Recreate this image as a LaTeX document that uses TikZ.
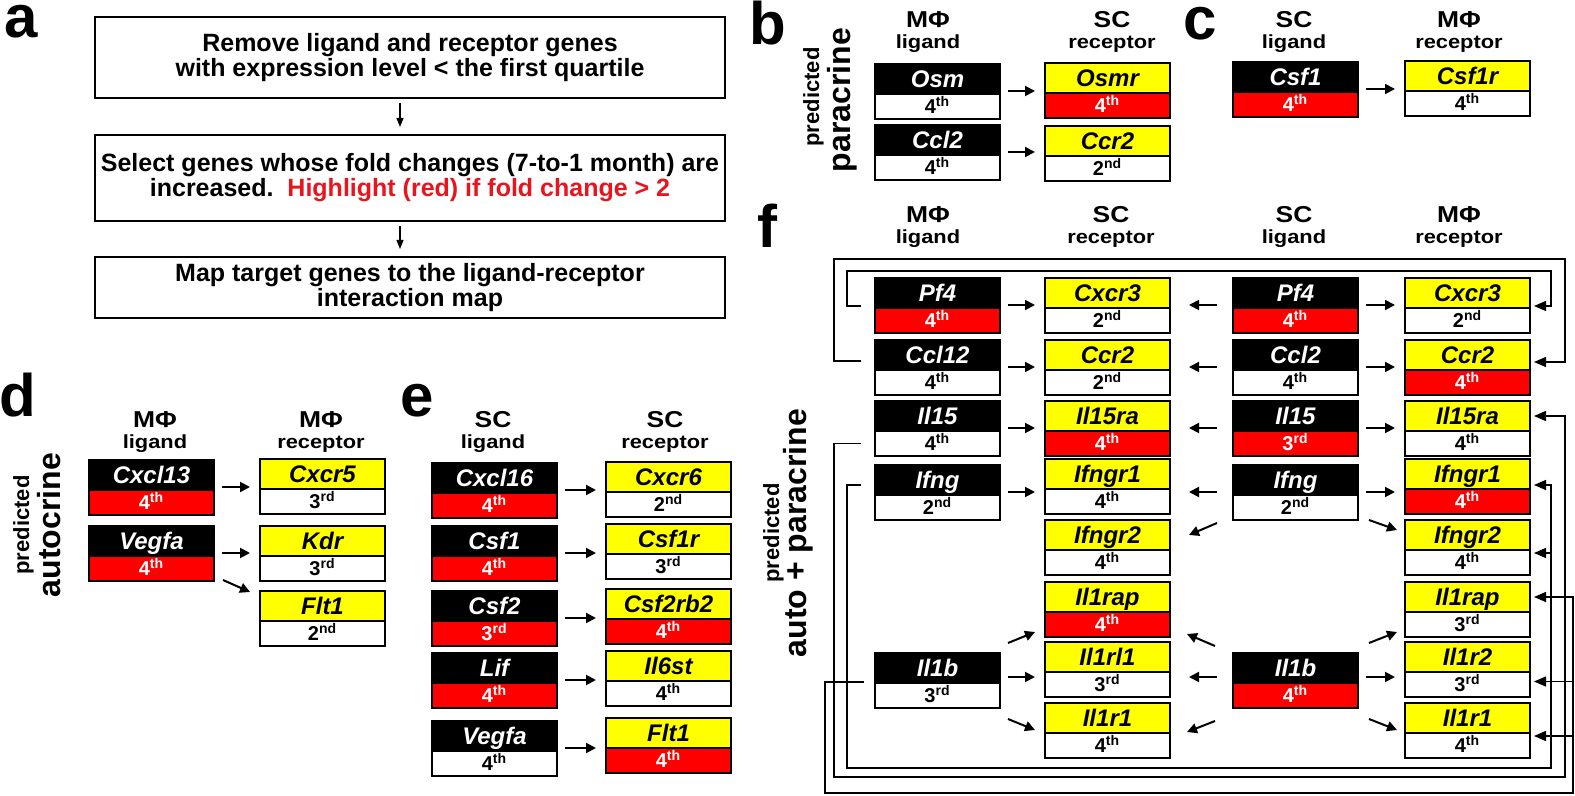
\documentclass[tikz,border=0pt]{standalone}
\usepackage{fontspec}
\setmainfont{Liberation Sans}
\newfontfamily\hdrfont[FakeStretch=1.15]{Liberation Sans}
\usetikzlibrary{arrows.meta,positioning}
\definecolor{hired}{RGB}{255,0,0}
\definecolor{genyel}{RGB}{255,255,0}
\definecolor{txtred}{RGB}{232,20,30}

\begin{document}
\begin{tikzpicture}[x=0.5pt, y=-0.5pt,
    every node/.style={inner sep=0pt, outer sep=0pt},
    stepbox/.style={draw, line width=0.75pt, minimum width=315pt, align=center,
      font=\fontsize{12.5}{12.5}\selectfont\bfseries},
    flow/.style={-{Triangle[length=4.5pt,width=3.5pt]}, line width=0.6pt, shorten <=2.5pt, shorten >=4pt},
    panel/.style={anchor=base west, font=\fontsize{30}{30}\selectfont\bfseries},
    gene/.style={draw, line width=0.6pt, minimum width=62.5pt, minimum height=15pt,
      text height=8.6pt, text depth=0pt, font=\fontsize{12}{12}\selectfont\bfseries\itshape},
    rank/.style={draw, line width=0.6pt, minimum width=62.5pt, minimum height=12.5pt,
      text height=7.2pt, text depth=0pt, font=\fontsize{10}{10}\selectfont\bfseries},
    lig/.style={fill=black, text=white},
    rec/.style={fill=genyel, text=black},
    hi/.style={fill=hired, text=white},
    lo/.style={fill=white, text=black},
    celltype/.style={anchor=base, font=\hdrfont\fontsize{11.5}{11.5}\selectfont\bfseries},
    role/.style={anchor=base, font=\hdrfont\fontsize{9.5}{9.5}\selectfont\bfseries},
    mode/.style={rotate=90, anchor=base},
    link/.style={-{Triangle[length=5pt,width=5pt]}, line width=1pt, shorten <=4pt, shorten >=5pt},
    linkl/.style={link, shorten <=8pt, shorten >=9.5pt},
    diag/.style={link, shorten <=0pt, shorten >=0pt},
    wire/.style={-{Triangle[length=6pt,width=5pt]}, line width=0.7pt}]
  \useasboundingbox (0,0) rectangle (1575,796);
  \fill[white] (0,0) rectangle (1575,796);

  % panel letters
  \node[panel] (la) at (4,38) {a};
  \node[panel] (lb) at (749,45) {b};
  \node[panel] (lc) at (1183,40) {c};
  \node[panel] (ld) at (-1,417) {d};
  \node[panel] (le) at (400,417) {e};
  \node[panel] (lf) at (757,248) {f};

  % a: workflow
  \node[stepbox, minimum height=40.5pt] (s1) at (410,57.5)
    {Remove ligand and receptor genes\\with expression level < the first quartile};
  \node[stepbox, minimum height=43pt] (s2) at (410,178)
    {Select genes whose fold changes (7-to-1 month) are\\increased.\ \ \textcolor{txtred}{Highlight (red) if fold change > 2}};
  \node[stepbox, minimum height=30.5pt] (s3) at (410,287.5)
    {Map target genes to the ligand-receptor\\interaction map};
  \draw[flow] ([xshift=-5pt]s1.south) -- ([xshift=-5pt]s2.north);
  \draw[flow] ([xshift=-5pt]s2.south) -- ([xshift=-5pt]s3.north);

  % side labels
  \node[mode, font=\fontsize{11}{11}\selectfont\bfseries] (bpred) at (819,97) {predicted};
  \node[mode, font=\fontsize{16}{16}\selectfont\bfseries] (bmode) at (850,100) {paracrine};
  \node[mode, font=\fontsize{11}{11}\selectfont\bfseries] (dpred) at (29,525) {predicted};
  \node[mode, font=\fontsize{16}{16}\selectfont\bfseries] (dmode) at (60,525) {autocrine};
  \node[mode, font=\fontsize{11}{11}\selectfont\bfseries] (fpred) at (779,533) {predicted};
  \node[mode, font=\fontsize{16}{16}\selectfont\bfseries] (fmode) at (806,533) {auto + paracrine};

  % column headers
  \foreach \n/\x/\y/\c/\w in {hb1/928/28/MΦ/ligand, hb2/1112/28/SC/receptor,
      hc1/1294/28/SC/ligand, hc2/1459/28/MΦ/receptor,
      hd1/155/428/MΦ/ligand, hd2/321/428/MΦ/receptor,
      he1/493/428/SC/ligand, he2/665/428/SC/receptor,
      hf1/928/223/MΦ/ligand, hf2/1111/223/SC/receptor,
      hf3/1294/223/SC/ligand, hf4/1459/223/MΦ/receptor}{
    \node[celltype] (\n) at (\x,\y) {\c};
    \node[role] (s\n) at (\x,\y+21) {\w};
  }

  % gene boxes: name/x/y/top/bottom/gene/rank/suffix
  \foreach \n/\x/\y/\tp/\bt/\g/\k/\s in {
      bA1/875/64/lig/lo/Osm/4/th, bB1/1045/63/rec/hi/Osmr/4/th,
      bA2/875/125/lig/lo/Ccl2/4/th, bB2/1045/126/rec/lo/Ccr2/2/nd,
      cA1/1233/62/lig/hi/Csf1/4/th, cB1/1405/61/rec/lo/Csf1r/4/th,
      dA1/89/460/lig/hi/Cxcl13/4/th, dA2/89/526/lig/hi/Vegfa/4/th,
      dB1/260/459/rec/lo/Cxcr5/3/rd, dB2/260/526/rec/lo/Kdr/3/rd,
      dB3/260/591/rec/lo/Flt1/2/nd,
      eA1/432/463/lig/hi/Cxcl16/4/th, eA2/432/526/lig/hi/Csf1/4/th,
      eA3/432/591/lig/hi/Csf2/3/rd, eA4/432/653/lig/hi/Lif/4/th,
      eA5/432/721/lig/lo/Vegfa/4/th,
      eB1/606/462/rec/lo/Cxcr6/2/nd, eB2/606/524/rec/lo/Csf1r/3/rd,
      eB3/606/589/rec/hi/Csf2rb2/4/th, eB4/606/651/rec/lo/Il6st/4/th,
      eB5/606/718/rec/hi/Flt1/4/th,
      fA1/875/278/lig/hi/Pf4/4/th, fA2/875/340/lig/lo/Ccl12/4/th,
      fA3/875/401/lig/lo/Il15/4/th, fA4/875/465/lig/lo/Ifng/2/nd,
      fA7/875/653/lig/lo/Il1b/3/rd,
      fB1/1045/278/rec/lo/Cxcr3/2/nd, fB2/1045/340/rec/lo/Ccr2/2/nd,
      fB3/1045/401/rec/hi/Il15ra/4/th, fB4/1045/459/rec/lo/Ifngr1/4/th,
      fB5/1045/520/rec/lo/Ifngr2/4/th, fB6/1045/582/rec/hi/Il1rap/4/th,
      fB7/1045/642/rec/lo/Il1rl1/3/rd, fB8/1045/703/rec/lo/Il1r1/4/th,
      fC1/1233/278/lig/hi/Pf4/4/th, fC2/1233/340/lig/lo/Ccl2/4/th,
      fC3/1233/401/lig/hi/Il15/3/rd, fC4/1233/465/lig/lo/Ifng/2/nd,
      fC7/1233/653/lig/hi/Il1b/4/th,
      fD1/1405/278/rec/lo/Cxcr3/2/nd, fD2/1405/340/rec/hi/Ccr2/4/th,
      fD3/1405/401/rec/lo/Il15ra/4/th, fD4/1405/459/rec/hi/Ifngr1/4/th,
      fD5/1405/520/rec/lo/Ifngr2/4/th, fD6/1405/582/rec/lo/Il1rap/3/rd,
      fD7/1405/642/rec/lo/Il1r2/3/rd, fD8/1405/703/rec/lo/Il1r1/4/th}{
    \node[gene, \tp, anchor=north west] (\n) at (\x,\y) {\g};
    \node[rank, \bt, below=0pt of \n] (r\n) {\k\textsuperscript{\s}};
  }

  % ligand -> receptor
  \foreach \a/\b in {bA1/bB1, bA2/bB2, cA1/cB1, dA1/dB1, dA2/dB2,
      eA1/eB1, eA2/eB2, eA3/eB3, eA4/eB4, eA5/eB5,
      fA1/fB1, fA2/fB2, fA3/fB3, fA4/fB4, fC1/fD1, fC2/fD2, fC3/fD3, fC4/fD4}
    \draw[link] ([yshift=1.5pt]\a.south east) -- ([yshift=1.5pt]\a.south east -| \b.west);
  \foreach \a/\b in {fC1/fB1, fC2/fB2, fC3/fB3, fC4/fB4}
    \draw[linkl] ([yshift=1.5pt]\a.south west) -- ([yshift=1.5pt]\a.south west -| \b.east);
  \draw[link] ([yshift=3pt]fA7.south east) -- ([yshift=3pt]fA7.south east -| fB7.west);
  \draw[linkl] ([yshift=3pt]fC7.south west) -- ([yshift=3pt]fC7.south west -| fB7.east);
  \draw[link] ([yshift=3pt]fC7.south east) -- ([yshift=3pt]fC7.south east -| fD7.west);
  \draw[diag] ([shift={(9,-1)}]rdA2.south east) -- ([shift={(-10,1)}]dB3.north west);
  \draw[diag] ([shift={(8,-10)}]fA7.north east) -- ([shift={(-10,-5)}]rfB6.south west);
  \draw[diag] ([shift={(8,11)}]rfA7.south east) -- ([shift={(-10,-3)}]fB8.south west);
  \draw[diag] ([shift={(-18,-7)}]fC7.north west) -- ([shift={(17,-3)}]rfB6.south east);
  \draw[diag] ([shift={(-18,13)}]rfC7.south west) -- ([shift={(17,-1)}]fB8.south east);
  \draw[diag] ([shift={(11,-10)}]fC7.north east) -- ([shift={(-8,-5)}]rfD6.south west);
  \draw[diag] ([shift={(11,11)}]rfC7.south east) -- ([shift={(-8,-3)}]fD8.south west);
  \draw[diag] ([shift={(-16,3)}]rfC4.south west) -- ([shift={(19,0)}]fB5.east);
  \draw[diag] ([shift={(11,0)}]rfC4.south east) -- ([shift={(-8,-5)}]fD5.west);

  % MΦ ligand -> MΦ receptor wires
  \coordinate (busA) at (847,271);
  \coordinate (busB) at (834,259);
  \coordinate (busC) at (834,777);
  \coordinate (busD) at (847,768);
  \coordinate (busE) at (825,793);
  \draw[wire] ([shift={(-14,-2)}]fA1.south west) -| (busA) -| ([shift={(21,-2)}]fD1.south east)
    -- ([shift={(4,-2)}]fD1.south east);
  \draw[wire] ([shift={(-14,-9)}]fA2.south west) -| (busB) -| ([shift={(35,-8)}]fD2.south east)
    -- ([shift={(4,-8)}]fD2.south east);
  \draw[wire] ([xshift=-7pt]rfA3.west) -| (busC) -| ([xshift=17.5pt]fD3.east) -- ([xshift=2pt]fD3.east);
  \draw[wire] ([shift={(-14,5)}]fA4.west) -| (busD) -| ([shift={(21,-4)}]fD4.south east)
    -- ([shift={(4,-4)}]fD4.south east);
  \draw[wire] ([shift={(21,3)}]fD5.south east) -- ([shift={(4,3)}]fD5.south east);
  \draw[wire] ([shift={(-11,-1)}]fA7.south west) -| (busE) -| ([xshift=21.5pt]fD6.east) -- ([xshift=2pt]fD6.east);
  \draw[wire] ([shift={(43,-3)}]rfD7.east) -- ([shift={(4,-3)}]rfD7.east);
  \draw[wire] ([shift={(43,3)}]fD8.south east) -- ([shift={(4,3)}]fD8.south east);
\end{tikzpicture}
\end{document}
